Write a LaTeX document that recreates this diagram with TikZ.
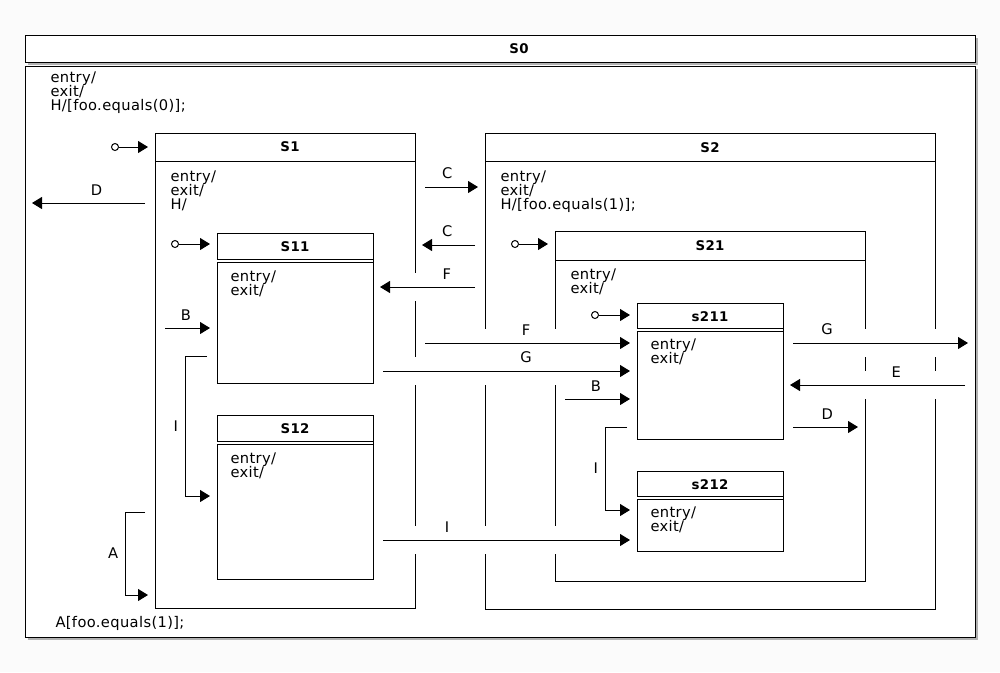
\documentclass[tikz,border=0pt]{standalone}
\usepackage{fontspec}
\setmainfont[LetterSpace=2.5]{DejaVu Sans}
\usetikzlibrary{positioning,arrows.meta,shadows}
\newdimen\px \px=0.75pt
\lineskiplimit=-10pt
\definecolor{pagebg}{RGB}{251,251,251}

\begin{document}
\begin{tikzpicture}[x=0.75pt, y=-0.75pt, line width=1\px,
  state/.style={draw, rectangle, anchor=north west, inner sep=0pt, outer sep=0pt, fill=white},
  shade/.style={drop shadow={shadow xshift=3\px, shadow yshift=-3\px, fill=black!50, opacity=.6}},
  title/.style={inner sep=0pt, font=\bfseries\fontsize{10}{12}\selectfont},
  hdr/.style={double, double distance=2\px},
  body/.style={anchor=north west, inner sep=0pt, align=left, font=\fontsize{11}{10.5}\selectfont},
  init/.style={circle, draw, inner sep=0pt, minimum size=7\px, fill=white},
  tip/.style={-{Triangle[length=7.5pt, width=9pt]}, shorten >=5.25pt},
  arr/.style={-{Triangle[length=7.5pt, width=9pt]}, shorten <=7.5pt, shorten >=5.25pt},
  gap/.style={preaction={draw=white, -, line width=28\px}},
  lab/.style={above=3\px, font=\fontsize{11}{12}\selectfont},
  side/.style={left=2\px, pos=.25, font=\fontsize{11}{12}\selectfont}]

  \fill[pagebg] (0,0) rectangle (1000,672);

  \node[state, shade, minimum width=950\px, minimum height=27\px] (S0h) at (25,35) {};
  \node[title, xshift=19\px] (S0t) at (S0h) {S0};
  \node[state, shade, minimum width=950\px, minimum height=571\px] (S0) at (25,66) {};
  \node[body] (S0txt) at (50,71) {entry/\\exit/\\H/[foo.equals(0)];};
  \node[body, anchor=base west] (S0end) at (55,627) {A[foo.equals(1)];};

  \node[state, minimum width=260\px, minimum height=475\px] (S1) at (155,133) {};
  \node[title, minimum height=27\px, below=0pt of S1.north, xshift=5\px] (S1t) {S1};
  \draw (S1.west |- S1t.south) -- (S1.east |- S1t.south);
  \node[body] (S1txt) at (170,170) {entry/\\exit/\\H/};

  \node[state, minimum width=156\px, minimum height=150\px] (S11) at (217,233) {};
  \node[title, minimum height=26.5\px, below=0pt of S11.north] (S11t) {S11};
  \draw[hdr] (S11.west |- S11t.south) -- (S11.east |- S11t.south);
  \node[body] (S11txt) at (230,270) {entry/\\exit/};

  \node[state, minimum width=156\px, minimum height=164\px] (S12) at (217,415) {};
  \node[title, minimum height=26.5\px, below=0pt of S12.north] (S12t) {S12};
  \draw[hdr] (S12.west |- S12t.south) -- (S12.east |- S12t.south);
  \node[body] (S12txt) at (230,452) {entry/\\exit/};

  \node[state, minimum width=450\px, minimum height=476\px] (S2) at (485,133) {};
  \node[title, minimum height=27.5\px, below=0pt of S2.north] (S2t) {S2};
  \draw (S2.west |- S2t.south) -- (S2.east |- S2t.south);
  \node[body] (S2txt) at (500,170) {entry/\\exit/\\H/[foo.equals(1)];};

  \node[state, minimum width=310\px, minimum height=350\px] (S21) at (555,231) {};
  \node[title, minimum height=28\px, below=0pt of S21.north] (S21t) {S21};
  \draw (S21.west |- S21t.south) -- (S21.east |- S21t.south);
  \node[body] (S21txt) at (570,268) {entry/\\exit/};

  \node[state, minimum width=146\px, minimum height=136\px] (s211) at (637,303) {};
  \node[title, minimum height=25.5\px, below=0pt of s211.north] (s211t) {s211};
  \draw[hdr] (s211.west |- s211t.south) -- (s211.east |- s211t.south);
  \node[body] (s211txt) at (650,338) {entry/\\exit/};

  \node[state, minimum width=146\px, minimum height=80\px] (s212) at (637,471) {};
  \node[title, minimum height=25.5\px, below=0pt of s212.north] (s212t) {s212};
  \draw[hdr] (s212.west |- s212t.south) -- (s212.east |- s212t.south);
  \node[body] (s212txt) at (650,506) {entry/\\exit/};

  \node[init] (S1i) at (115,147) {};
  \draw[tip] (S1i) -- (S1.west |- S1i);
  \node[init] (S11i) at (175,244) {};
  \draw[tip] (S11i) -- (S11.west |- S11i);
  \node[init] (S21i) at (515,244) {};
  \draw[tip] (S21i) -- (S21.west |- S21i);
  \node[init] (s211i) at (595,315) {};
  \draw[tip] (s211i) -- (s211.west |- s211i);

  \draw[arr] (S1.west |- 0,203) -- node[lab, pos=.45] {D} (S0.west |- 0,203);
  \draw[arr] (S1.east |- 0,187) -- node[lab, pos=.46] {C} (S2.west |- 0,187);
  \draw[arr] (S2.west |- 0,245) -- node[lab, pos=.54] {C} (S1.east |- 0,245);
  \draw[arr, gap] (S2.west |- 0,287) -- node[lab, pos=.34] {F} (S11.east |- 0,287);
  \draw[arr] (S1.west |- 0,328) -- node[lab] {B} (S11.west |- 0,328);
  \draw[arr] (S11.west |- 0,356) -- ++(-32,0) |- node[side] {I} (S12.west |- 0,496);
  \draw[arr] (S1.west |- 0,512) -- ++(-30,0) |- node[side] {A} (S1.west |- 0,595);

  \draw[arr, gap] (S1.east |- 0,343) -- node[lab] {F} (s211.west |- 0,343);
  \draw[arr, gap] (S11.east |- 0,371) -- node[lab, pos=.58] {G} (s211.west |- 0,371);
  \draw[arr] (S21.west |- 0,399) -- node[lab] {B} (s211.west |- 0,399);
  \draw[arr, gap] (s211.east |- 0,343) -- node[lab, pos=.23] {G} (S0.east |- 0,343);
  \draw[arr, gap] (S0.east |- 0,385) -- node[lab, pos=.41] {E} (s211.east |- 0,385);
  \draw[arr] (s211.east |- 0,427) -- node[lab, pos=.54] {D} (S21.east |- 0,427);
  \draw[arr] (s211.west |- 0,427) -- ++(-32,0) |- node[side] {I} (s212.west |- 0,510);
  \draw[arr, gap] (S12.east |- 0,540) -- node[lab, pos=.28] {I} (s212.west |- 0,540);
\end{tikzpicture}
\end{document}
